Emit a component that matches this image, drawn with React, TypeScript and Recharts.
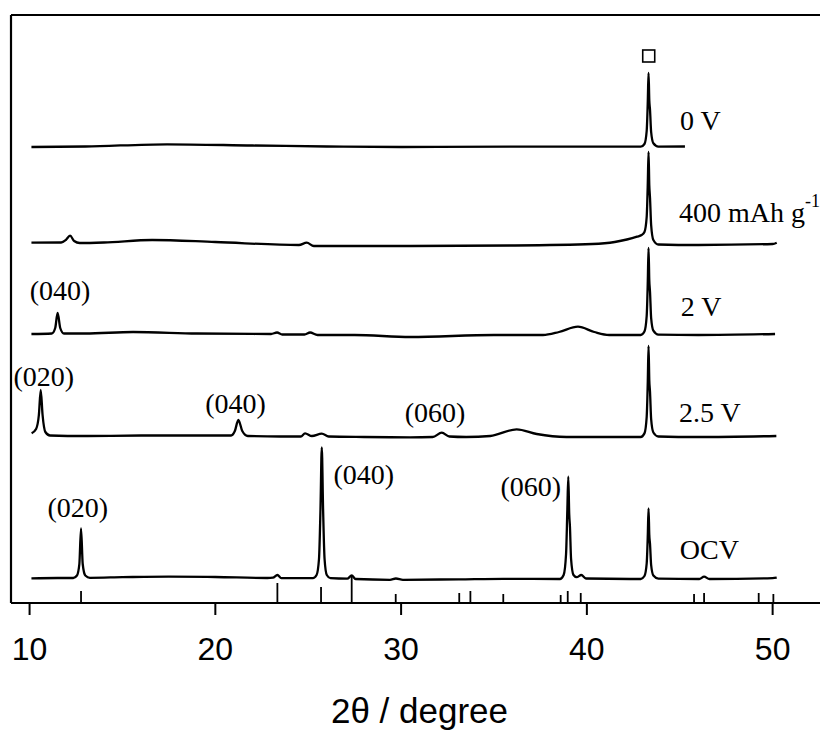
import {
  ComposedChart,
  ErrorBar,
  Label,
  Line,
  ReferenceLine,
  Scatter,
  XAxis,
  YAxis,
} from "recharts";

type Pt = [number, number];

// [2θ (degree), intensity above the pattern's own baseline (a.u.)]
const ocv: Pt[] = [
  [10.1, 0.7], [11.5, 1], [12.35, 1], [12.55, 3.5], [12.68, 15], [12.77, 50.7],
  [12.86, 15], [13.0, 3.5], [13.25, 1.2], [15, 1.8], [17.5, 2.4], [20, 2],
  [22.8, 1], [23.1, 1.3], [23.34, 4], [23.55, 0.8], [25.25, 0.8], [25.45, 4],
  [25.58, 20], [25.66, 70], [25.73, 131.7], [25.8, 70], [25.88, 20], [26.0, 4],
  [26.2, 0.8], [27.1, 0.3], [27.34, 3.5], [27.55, 0], [29.4, -0.8], [29.72, 0.5],
  [30.1, -0.8], [33.1, -0.3], [35.5, 0.2], [38.55, 0], [38.75, 4], [38.88, 25],
  [38.95, 70], [39.0, 102.3], [39.05, 65], [39.09, 52], [39.15, 20], [39.28, 4],
  [39.45, 1.8], [39.7, 4], [39.95, 0.5], [42.9, 0], [43.1, 3], [43.22, 15.5],
  [43.28, 44], [43.32, 70.7], [43.36, 44.5], [43.4, 35], [43.46, 14], [43.58, 3.5],
  [43.85, 0.4], [46.05, 0], [46.31, 2.3], [46.6, 0], [50.0, 0.8], [50.22, 1.3],
];

const v25: Pt[] = [
  [10.11, 3.7], [10.35, 8], [10.5, 22], [10.6, 47], [10.7, 22], [10.85, 5],
  [11.1, 1.5], [13, 1], [16, 1.5], [20, 1.5], [20.85, 1.5], [21.05, 6],
  [21.24, 17], [21.45, 6], [21.75, 1], [23.5, 0.5], [24.6, 0.5], [24.83, 3.7],
  [25.2, 1], [25.73, 3.3], [26.1, 0.5], [28, 0], [30.5, -0.3], [31.7, 0],
  [32.19, 4.3], [32.6, 0.5], [33.5, 0], [34.8, 1], [36.22, 7.7], [37.3, 3],
  [38.9, 0], [42.9, 0], [43.1, 3.6], [43.22, 20], [43.28, 56], [43.32, 91],
  [43.36, 57], [43.4, 45], [43.46, 18], [43.58, 4.5], [43.85, 0.5], [46, 0],
  [50.2, 1],
];

const v2: Pt[] = [
  [10.1, 1], [11.2, 1.5], [11.38, 7], [11.51, 22], [11.65, 7], [11.85, 1.5],
  [13, 1.5], [15.57, 3], [19, 1.5], [23.0, 1], [23.32, 2.5], [23.6, 0.5],
  [24.8, 0.5], [25.1, 2.5], [25.5, 0], [27.5, 0], [30.5, -2], [35, 0],
  [37.64, 0], [38.5, 3], [39.52, 8.3], [40.4, 3], [41.2, 0], [42.9, 0],
  [43.1, 3.5], [43.22, 19], [43.28, 54], [43.32, 87], [43.36, 55], [43.4, 43],
  [43.46, 17], [43.58, 4.3], [43.85, 0.4], [46, 0], [50.13, 1],
];

const mah400: Pt[] = [
  [10.1, 2.3], [11.7, 2.5], [11.95, 5], [12.18, 9.3], [12.4, 4], [12.7, 2],
  [14, 2.5], [16.6, 5], [20, 3], [24.5, 0], [24.92, 2.3], [25.3, -1],
  [30.5, -1], [36, -0.5], [40.3, 1], [41.5, 3], [42.7, 8.3], [42.95, 10],
  [43.1, 13], [43.22, 28], [43.28, 62], [43.32, 93], [43.36, 60], [43.4, 47],
  [43.46, 20], [43.58, 5], [43.85, 0.5], [46, 0], [50.0, 1], [50.22, 2.3],
];

const v0: Pt[] = [
  [10.1, 0], [13, 0.5], [17.4, 2.7], [22, 1.5], [26, 0.5], [30, 0],
  [36, 0.3], [40, 0.3], [42.9, 0.3], [43.1, 3], [43.22, 16], [43.28, 46],
  [43.32, 74], [43.36, 47], [43.4, 37], [43.46, 15], [43.58, 3.7], [43.85, 0.4],
  [45.28, 0.5],
];

// vertical offset of each pattern in the stack
const patternNames = ["OCV", "2.5 V", "2 V", "400 mAh g-1", "0 V"];
const patternOffsets = [24, 166, 268, 358, 456];
const patternPoints = [ocv, v25, v2, mah400, v0];

// reference stick pattern drawn under the OCV trace
const refPos = [
  12.77, 23.34, 25.69, 27.34, 29.71, 33.13, 33.73, 35.5, 38.59, 38.97, 39.67,
  45.77, 46.31, 49.25, 50.04,
];
const refHeight = [12, 20, 16, 27, 9, 10, 12, 9, 8, 12, 10, 9, 10, 10, 9];

// current collector peak marker
const cuMark = [{ x: 43.33, y: 547 }];

const xTicks = [10, 20, 30, 40, 50];

const annotations = [
  { x: 11.64, y: 313, text: "(040)", anchor: "middle" },
  { x: 10.77, y: 227, text: "(020)", anchor: "middle" },
  { x: 21.09, y: 200, text: "(040)", anchor: "middle" },
  { x: 31.83, y: 191, text: "(060)", anchor: "middle" },
  { x: 27.99, y: 129, text: "(040)", anchor: "middle" },
  { x: 12.6, y: 96, text: "(020)", anchor: "middle" },
  { x: 36.98, y: 117, text: "(060)", anchor: "middle" },
  { x: 45.01, y: 483, text: "0 V", anchor: "start" },
  { x: 44.96, y: 391, text: "400 mAh g", sup: "-1", anchor: "start" },
  { x: 45.05, y: 297, text: "2 V", anchor: "start" },
  { x: 44.96, y: 191, text: "2.5 V", anchor: "start" },
  { x: 45.0, y: 54, text: "OCV", anchor: "start" },
];

const serif = "'Liberation Serif', 'Times New Roman', serif";
const sans = "'Liberation Sans', Arial, sans-serif";

const patterns = patternPoints.map((pts, i) => ({
  name: patternNames[i],
  rows: pts.map(([x, y]) => ({ x, y: y + patternOffsets[i] })),
}));

const sticks = refPos.map((x, i) => ({ x, y: 0, err: [0, refHeight[i]] }));

function TextMark(props: any) {
  const { cx, cy, payload } = props;
  return (
    <text
      x={cx}
      y={cy}
      textAnchor={payload.anchor}
      dominantBaseline="central"
      fontFamily={serif}
      fontSize={28}
      fill="#000"
    >
      {payload.text}
      {payload.sup && (
        <tspan dy={-11} fontSize={18}>
          {payload.sup}
        </tspan>
      )}
    </text>
  );
}

function SquareMark(props: any) {
  const { cx, cy } = props;
  return (
    <rect
      x={cx - 6}
      y={cy - 6}
      width={12}
      height={12}
      fill="#fff"
      stroke="#000"
      strokeWidth={1.6}
    />
  );
}

export default function App() {
  return (
    <div style={{ position: "absolute", left: 0, top: 0, background: "#fff" }}>
      <ComposedChart
        width={820}
        height={733}
        margin={{ top: 15, right: 0, bottom: 60, left: 11 }}
      >
        <XAxis
          type="number"
          dataKey="x"
          domain={[9, 52.55]}
          ticks={xTicks}
          allowDataOverflow
          height={70}
          tickSize={12}
          tickMargin={22}
          axisLine={{ stroke: "#000", strokeWidth: 2 }}
          tickLine={{ stroke: "#000", strokeWidth: 2 }}
          tick={{ fill: "#000", fontSize: 32, fontFamily: sans }}
        >
          <Label
            value="2θ / degree"
            position="bottom"
            offset={25}
            dx={4}
            fill="#000"
            fontSize={35}
            fontFamily={sans}
          />
        </XAxis>
        <YAxis type="number" domain={[0, 588]} allowDataOverflow hide />
        {/* frame: left and top edges */}
        <ReferenceLine x={9} stroke="#000" strokeWidth={2.2} />
        <ReferenceLine y={588} stroke="#000" strokeWidth={2} />
        {patterns.map((p) => (
          <Line
            key={p.name}
            name={p.name}
            data={p.rows}
            dataKey="y"
            type="monotone"
            stroke="#000"
            strokeWidth={2.3}
            dot={false}
            isAnimationActive={false}
          />
        ))}
        <Scatter
          data={sticks}
          dataKey="y"
          shape={() => <g />}
          isAnimationActive={false}
        >
          <ErrorBar
            dataKey="err"
            direction="y"
            width={0}
            stroke="#000"
            strokeWidth={1.8}
          />
        </Scatter>
        <Scatter
          data={cuMark}
          dataKey="y"
          shape={SquareMark}
          isAnimationActive={false}
        />
        <Scatter
          data={annotations}
          dataKey="y"
          shape={TextMark}
          isAnimationActive={false}
        />
      </ComposedChart>
    </div>
  );
}
